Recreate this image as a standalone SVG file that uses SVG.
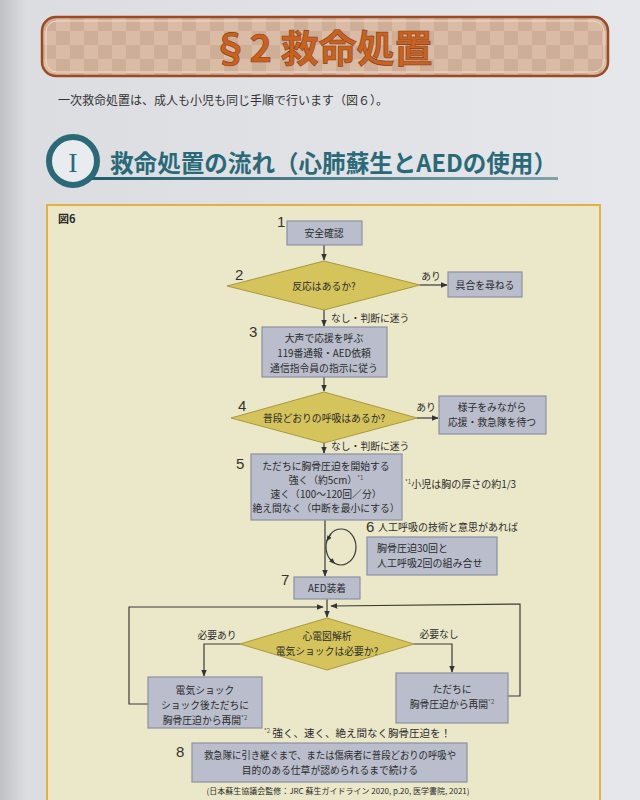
<svg xmlns="http://www.w3.org/2000/svg" width="640" height="800" viewBox="0 0 640 800">
<defs>
<pattern id="chk" x="42" y="17" width="28" height="28" patternUnits="userSpaceOnUse">
<rect width="28" height="28" fill="#d9bba6"/>
<rect width="14" height="14" fill="#cfae97"/>
<rect x="14" y="14" width="14" height="14" fill="#cfae97"/>
</pattern>
<linearGradient id="ul" x1="0" x2="1" y1="0" y2="0">
<stop offset="0" stop-color="#1f5f6c"/>
<stop offset="1" stop-color="#7fa3ab"/>
</linearGradient>
<linearGradient id="page" x1="0" x2="1" y1="0" y2="0">
<stop offset="0" stop-color="#bfc0c4"/>
<stop offset="0.04" stop-color="#dcdde1"/>
<stop offset="1" stop-color="#e6e7ea"/>
</linearGradient>
<marker id="ah" viewBox="0 0 10 10" refX="9" refY="5" markerWidth="6" markerHeight="6" orient="auto">
<path d="M0,1 L10,5 L0,9 z" fill="#333"/>
</marker>
<marker id="ahs" viewBox="0 0 10 10" refX="5" refY="5" markerWidth="5" markerHeight="5" orient="auto">
<path d="M0,1 L10,5 L0,9 z" fill="#333"/>
</marker>
</defs>
<style>
text{font-family:"Noto Sans CJK JP","Noto Sans",sans-serif;fill:#2b2b2b}
.box{fill:#b9bdcc;stroke:#8d91a2;stroke-width:1.2}
.dia{fill:#d5c45c;stroke:#a8993f;stroke-width:1}
.t{font-size:9.8px;text-anchor:middle}
.lbl{font-size:9.8px}
.num{font-family:"Liberation Sans",sans-serif;font-size:15px;fill:#333}
.edge{fill:none;stroke:#3a3a3a;stroke-width:1.2}
.sup{font-size:6px;fill:#555}
</style>
<rect width="640" height="800" fill="url(#page)"/>

<g id="banner">
<rect x="42" y="17" width="566" height="59" rx="14" fill="url(#chk)" stroke="#9b4a24" stroke-width="2.5"/>
<rect x="46" y="21" width="558" height="51" rx="11" fill="none" stroke="#f0dccd" stroke-width="1"/>
<text x="322" y="62" font-size="38" font-weight="bold" text-anchor="middle" style="fill:#c8621f;stroke:#8a3a12;stroke-width:0.6">§2 救命処置</text>
</g>

<g id="intro">
<text x="58" y="105" font-size="12" style="fill:#333">一次救命処置は、成人も小児も同じ手順で行います（図６）。</text>
</g>

<g id="section">
<rect x="92" y="177" width="466" height="3" fill="url(#ul)"/>
<circle cx="73" cy="161" r="24" fill="#e9ecee" stroke="#2a6a78" stroke-width="6"/>
<text x="73" y="172" font-size="28" text-anchor="middle" style="font-family:'Liberation Serif',serif;fill:#2a6a78">I</text>
<text x="110" y="172" font-size="24" font-weight="bold" textLength="447" lengthAdjust="spacingAndGlyphs" style="fill:#2a6a78">救命処置の流れ（心肺蘇生とAEDの使用）</text>
</g>

<g id="figure">
<rect x="47" y="205" width="553" height="610" fill="#eae8c8" stroke="#e2b23e" stroke-width="2"/>
<text x="58" y="223" font-size="11" font-weight="bold">図6</text>
</g>

<g id="connectors">
<line class="edge" x1="324" y1="245" x2="324" y2="260" marker-end="url(#ah)"/>
<line class="edge" x1="420" y1="285" x2="447" y2="285" marker-end="url(#ah)"/>
<text class="lbl" x="431" y="280" text-anchor="middle">あり</text>
<line class="edge" x1="324" y1="310" x2="324" y2="326" marker-end="url(#ah)"/>
<text class="lbl" x="331" y="322">なし・判断に迷う</text>
<line class="edge" x1="324" y1="377" x2="324" y2="391" marker-end="url(#ah)"/>
<line class="edge" x1="417" y1="418" x2="438" y2="418" marker-end="url(#ah)"/>
<text class="lbl" x="426" y="411" text-anchor="middle">あり</text>
<line class="edge" x1="324" y1="443" x2="324" y2="453" marker-end="url(#ah)"/>
<text class="lbl" x="331" y="450">なし・判断に迷う</text>
<line class="edge" x1="325" y1="520" x2="325" y2="576" marker-end="url(#ah)"/>
<ellipse class="edge" cx="341" cy="547" rx="15" ry="18"/>
<path class="edge" d="M331,534 L328,539" marker-end="url(#ahs)"/>
<path class="edge" d="M330,559 L333,562" marker-end="url(#ahs)"/>
<line class="edge" x1="327" y1="599" x2="327" y2="617" marker-end="url(#ah)"/>
<polyline class="edge" points="148,704 129,704 129,607 323,607" marker-end="url(#ah)"/>
<polyline class="edge" points="508,696 520,696 520,604 331,606" marker-end="url(#ah)"/>
<polyline class="edge" points="240,644 204,644 204,676" marker-end="url(#ah)"/>
<text class="lbl" x="217" y="639" text-anchor="middle">必要あり</text>
<polyline class="edge" points="414,644 452,644 452,672" marker-end="url(#ah)"/>
<text class="lbl" x="439" y="638" text-anchor="middle">必要なし</text>
</g>

<g id="n1">
<text class="num" x="277" y="227">1</text>
<rect class="box" x="287" y="221" width="75" height="24"/>
<text class="t" x="324" y="237">安全確認</text>
</g>
<g id="n2">
<text class="num" x="235" y="280">2</text>
<polygon class="dia" points="227,286 324,261 420,285 324,310"/>
<text class="t" x="324" y="290">反応はあるか?</text>
</g>
<g id="n2b">
<rect class="box" x="448" y="272" width="74" height="25"/>
<text class="t" x="485" y="289">具合を尋ねる</text>
</g>
<g id="n3">
<text class="num" x="249" y="337">3</text>
<rect class="box" x="262" y="327" width="125" height="50"/>
<text class="t" x="324" y="342">大声で応援を呼ぶ</text>
<text class="t" x="324" y="357">119番通報・AED依頼</text>
<text class="t" x="324" y="372">通信指令員の指示に従う</text>
</g>
<g id="n4">
<text class="num" x="238" y="411">4</text>
<polygon class="dia" points="231,418 324,392 417,418 324,443"/>
<text class="t" x="324" y="422">普段どおりの呼吸はあるか?</text>
</g>
<g id="n4b">
<rect class="box" x="439" y="396" width="107" height="38"/>
<text class="t" x="492" y="411">様子をみながら</text>
<text class="t" x="492" y="426">応援・救急隊を待つ</text>
</g>
<g id="n5">
<text class="num" x="236" y="469">5</text>
<rect class="box" x="251" y="454" width="151" height="66"/>
<text class="t" x="326" y="470">ただちに胸骨圧迫を開始する</text>
<text class="t" x="326" y="484">強く（約5cm）<tspan class="sup" dy="-4">*1</tspan></text>
<text class="t" x="326" y="498">速く（100〜120回／分）</text>
<text class="t" x="326" y="512">絶え間なく（中断を最小にする）</text>
<text x="405" y="488" font-size="10"><tspan class="sup" dy="-4">*1</tspan><tspan dy="4">小児は胸の厚さの約1/3</tspan></text>
</g>
<g id="n6">
<text class="num" x="366" y="532">6</text>
<text x="378" y="531" font-size="10">人工呼吸の技術と意思があれば</text>
<rect class="box" x="367" y="537" width="130" height="38"/>
<text x="377" y="552" font-size="10">胸骨圧迫30回と</text>
<text x="377" y="567" font-size="10">人工呼吸2回の組み合せ</text>
</g>
<g id="n7">
<text class="num" x="281" y="585">7</text>
<rect class="box" x="294" y="577" width="66" height="22"/>
<text class="t" x="327" y="592">AED装着</text>
</g>
<g id="n8">
<polygon class="dia" points="240,644 327,618 414,644 327,670"/>
<text class="t" x="327" y="640">心電図解析</text>
<text class="t" x="327" y="655">電気ショックは必要か?</text>
</g>
<g id="nL">
<rect class="box" x="148" y="677" width="114" height="51"/>
<text class="t" x="205" y="694">電気ショック</text>
<text class="t" x="205" y="709">ショック後ただちに</text>
<text class="t" x="205" y="724">胸骨圧迫から再開<tspan class="sup" dy="-4">*2</tspan></text>
</g>
<g id="nR">
<rect class="box" x="396" y="673" width="112" height="50"/>
<text class="t" x="452" y="693">ただちに</text>
<text class="t" x="452" y="708">胸骨圧迫から再開<tspan class="sup" dy="-4">*2</tspan></text>
</g>
<g id="note2">
<text x="264" y="737" font-size="10.5"><tspan class="sup" dy="-4">*2</tspan><tspan dy="4"> 強く、速く、絶え間なく胸骨圧迫を！</tspan></text>
</g>
<g id="n9">
<text class="num" x="176" y="757">8</text>
<rect class="box" x="192" y="743" width="275" height="39"/>
<text class="t" x="330" y="759" font-size="9.4" textLength="252" lengthAdjust="spacingAndGlyphs">救急隊に引き継ぐまで、または傷病者に普段どおりの呼吸や</text>
<text class="t" x="330" y="774" font-size="9.4">目的のある仕草が認められるまで続ける</text>
</g>
<g id="cite">
<text x="338" y="794" font-size="8" text-anchor="middle">(日本蘇生協議会監修：JRC 蘇生ガイドライン 2020, p.20, 医学書院, 2021)</text>
</g>
</svg>
